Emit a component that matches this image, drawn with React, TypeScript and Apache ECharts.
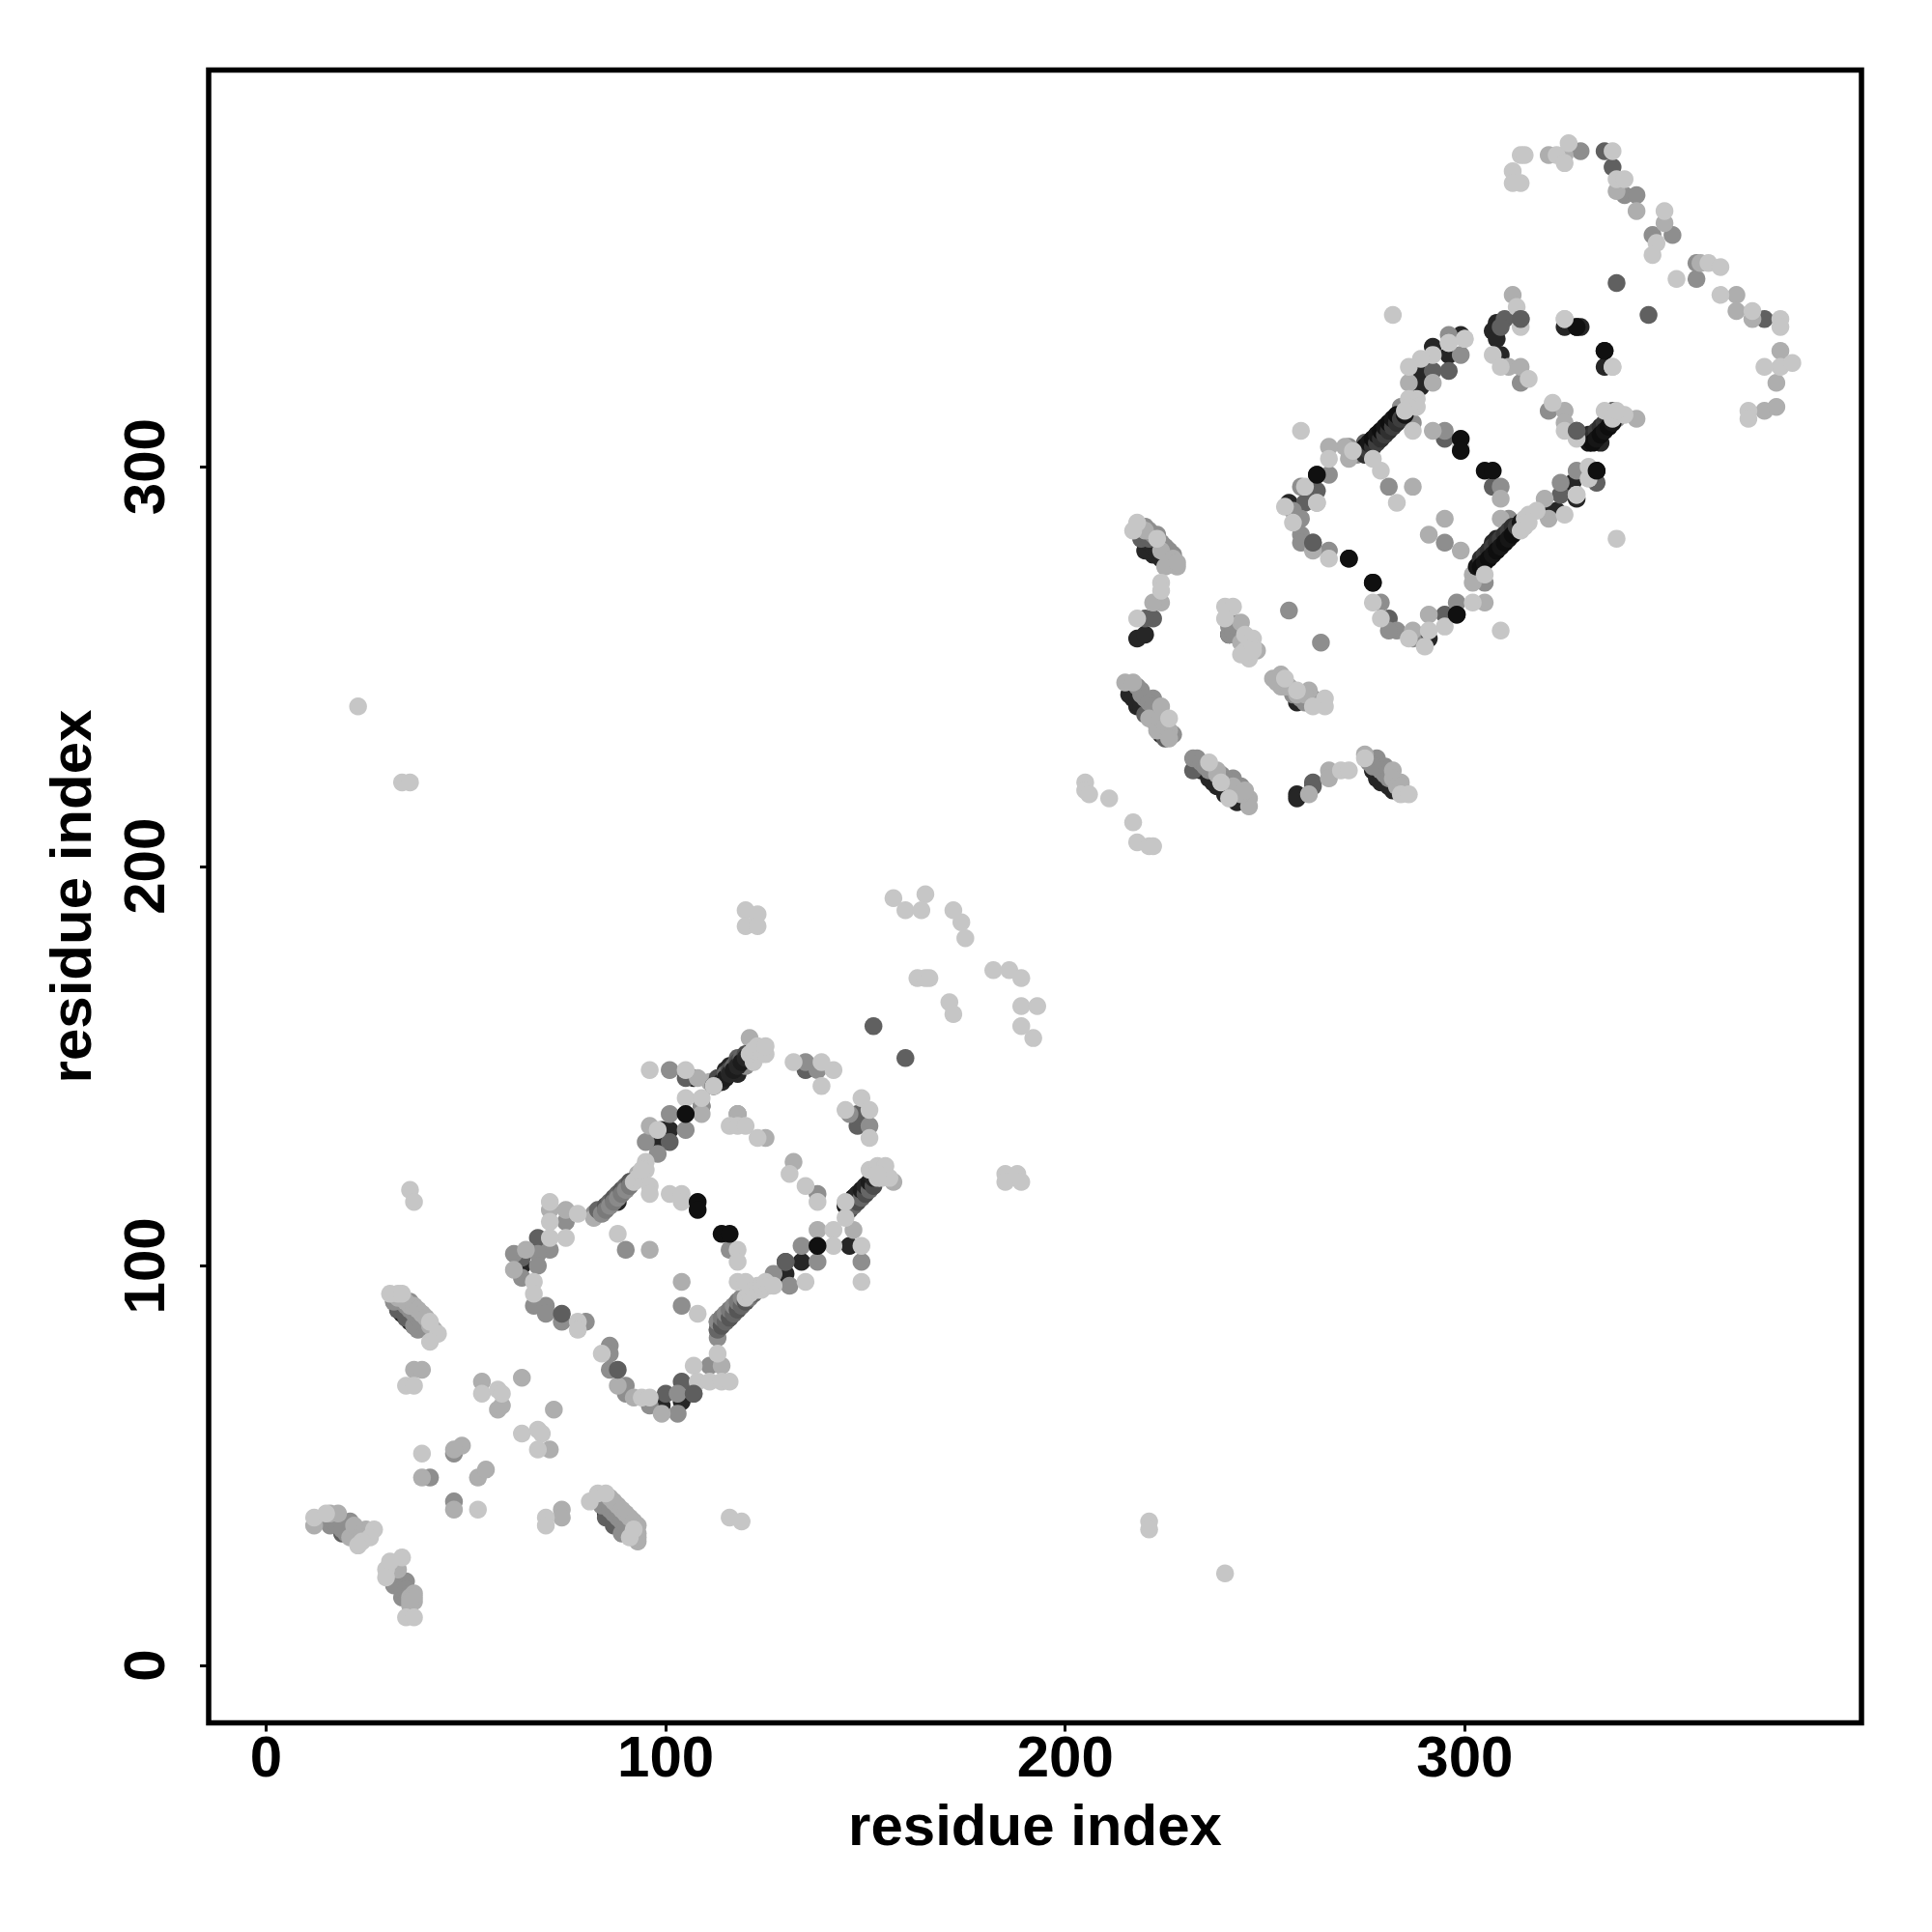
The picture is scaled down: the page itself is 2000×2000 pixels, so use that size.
import React, { useEffect, useRef } from "react";
import * as echarts from "echarts";

const TICKS = [0, 100, 200, 300];
const AXIS_TITLE = "residue index";

const nearBlack: number[][] = [
  [116,150],[118,148],[115,149],[114,146],[116,148],[107,147],[101,134],[98,130],[88,116],[147,117],[148,118],[146,116],[64,100],[99,65],[104,66],[130,98],[134,101],[146,105],[222,278],[224,277],[220,279],[216,243],[218,240],[240,219],[242,217],[258,218],[258,217],[218,257],[220,258],[241,258],[258,241],[277,224],[278,222],[281,220],[308,336],[307,334],[308,332],[309,328],[325,335],[328,335],[329,335],[335,329],[335,325],[328,309],[332,307],[334,306],[331,308],[336,310],[335,310],[299,333],[296,328],[292,330],[289,324],[289,320],[283,312],[282,311],[280,309],[279,307],[277,305],[278,308],[263,298],[256,291],[271,277],[277,271],[310,283],[308,282],[308,280],[306,279],[305,277],[304,276],[307,281],[298,263],[291,257],[333,299],[327,296],[328,292],[320,289],[323,289],[99,134],[97,134],
  [33,89],[34,88],[35,87],[36,86],[37,85],[85,38],[86,37],[87,36],[88,35],[89,34],[90,33],[219,283],[220,282],[221,281],[222,280],[223,279],[224,278],[225,277],[226,276],[217,242],[218,241],[219,240],[220,239],[221,238],[222,237],[223,235],[224,233],[233,225],[234,224],[236,222],[237,221],[238,220],[239,220],[240,218],[241,218],[243,216],[278,224],[279,223],[280,221],[282,219],[279,221],
];
const darkGray: number[][] = [
  [118,152],[105,147],[109,140],[101,131],[88,118],[68,107],[64,102],[117,89],[118,91],[113,84],[113,86],[115,88],[114,86],[116,87],[130,101],[150,120],[152,122],[135,149],[148,138],[148,135],[33,89],[35,87],[85,37],[87,35],[19,33],[33,22],[107,68],[100,68],[104,71],[219,282],[221,282],[222,262],[220,262],[243,258],[232,224],[262,221],[262,220],[220,238],[225,232],[310,337],[314,337],[309,335],[346,338],[338,346],[337,314],[336,310],[275,306],[274,304],[296,324],[292,324],[263,294],[260,291],[262,281],[295,307],[307,295],[312,285],[295,263],[281,262],[333,296],[324,293],[335,379],[337,375],[375,337],[152,160],[160,152],
  [32,91],[33,90],[34,89],[35,88],[36,87],[37,86],[38,85],[32,22],[33,21],[34,20],[35,18],[20,35],[21,34],[22,33],
];
const midGray: number[][] = [
  [120,150],[109,140],[101,138],[105,134],[95,131],[98,128],[101,149],[90,119],[86,115],[84,114],[82,113],[75,111],[71,104],[68,103],[62,103],[68,100],[64,97],[67,90],[70,90],[70,88],[74,86],[80,86],[86,80],[86,78],[86,74],[90,70],[90,68],[96,65],[103,63],[103,68],[111,75],[113,82],[127,98],[131,95],[134,105],[138,101],[149,101],[135,151],[138,149],[146,138],[151,135],[118,138],[138,118],[116,104],[90,104],[104,90],[36,91],[32,91],[37,89],[37,85],[38,84],[84,40],[87,40],[89,38],[91,36],[89,33],[16,35],[19,36],[21,36],[20,33],[35,21],[32,20],[34,17],[41,47],[47,41],[47,53],[225,280],[227,278],[242,261],[241,258],[262,242],[219,244],[222,242],[227,233],[232,227],[233,227],[242,222],[244,220],[278,227],[280,225],[256,264],[264,256],[314,321],[321,314],[338,312],[271,305],[273,303],[266,298],[259,295],[257,289],[259,287],[259,283],[259,281],[266,279],[296,333],[299,328],[287,311],[284,315],[281,295],[295,309],[309,295],[295,281],[311,287],[314,285],[305,271],[298,266],[287,257],[283,259],[281,259],[279,266],[324,296],[329,379],[340,368],[343,368],[347,358],[352,358],[358,351],[358,347],[328,299],
  [34,91],[35,90],[36,89],[37,88],[38,87],[39,86],[40,85],[84,41],[85,40],[86,39],[87,38],[88,37],[89,36],[90,35],[91,34],[92,33],[220,285],[221,284],[222,283],[223,283],[224,281],[226,279],[218,245],[219,243],[220,242],[221,241],[222,240],[223,238],[234,226],[235,225],[236,224],[237,224],[239,223],[240,222],[241,221],[243,219],[276,226],[277,225],[279,224],[280,223],[281,222],[17,36],[18,35],[19,34],[31,23],[32,23],[34,19],[35,19],[36,18],
  [241,260],[242,259],[243,260],[259,242],[260,241],[257,243],
];
const lightGray: number[][] = [
  [121,157],[111,146],[108,147],[109,138],[96,135],[93,123],[91,121],[82,112],[75,114],[71,114],[65,104],[62,99],[92,67],[99,63],[114,75],[119,92],[138,109],[147,109],[157,121],[118,138],[125,132],[132,126],[96,104],[104,96],[12,35],[16,38],[18,38],[23,34],[25,34],[21,32],[33,24],[37,18],[37,16],[36,15],[36,90],[39,88],[93,31],[37,74],[39,74],[54,71],[58,64],[59,65],[64,72],[72,64],[71,54],[49,55],[47,54],[39,47],[53,47],[55,49],[47,39],[74,39],[74,37],[88,70],[218,285],[220,284],[228,275],[225,275],[224,266],[222,266],[244,261],[248,254],[252,247],[254,248],[254,245],[261,244],[215,246],[217,246],[224,240],[221,237],[223,234],[238,224],[246,217],[246,215],[261,218],[266,224],[266,222],[275,228],[282,224],[284,221],[312,343],[311,325],[314,325],[325,314],[325,311],[343,312],[286,321],[292,321],[270,305],[271,302],[266,305],[263,291],[262,279],[287,295],[292,309],[309,292],[295,287],[291,283],[299,279],[309,287],[302,273],[302,271],[305,266],[291,263],[287,259],[321,287],[320,292],[321,378],[325,378],[343,364],[338,369],[350,361],[359,351],[368,343],[368,339],[372,337],[379,329],[378,321],[375,314],[378,315],
  [33,92],[35,91],[37,90],[38,89],[39,88],[40,87],[41,85],[42,84],[86,42],[87,41],[88,40],[89,39],[90,38],[91,37],[92,36],[93,35],[93,33],[93,32],[224,279],[227,277],[228,276],[224,237],[225,235],[226,234],[226,232],[238,223],[242,220],[244,218],[245,219],[282,222],[283,220],[284,220],[22,35],[24,33],[25,32],[24,32],[36,17],[37,17],[36,16],
  [244,256],[245,255],[246,255],[246,256],[253,246],[255,245],[256,245],[258,243],[260,243],
];
const stripeLoop1Upper: number[][] = [
  [112,145],[113,147],[114,146],[115,148],[115,147],[116,149],[116,148],[117,150],[117,149],[118,151],[118,150],[119,152],[119,151],[120,153],[120,152],
];
const stripeLoop1Left: number[][] = [
  [83,114],[84,113],[85,115],[85,114],[86,116],[86,115],[87,117],[87,116],[88,118],[88,117],[89,119],[89,118],[90,120],[90,119],[91,121],[91,120],
];
const stripeLoop1Lower: number[][] = [
  [113,84],[113,86],[114,85],[114,87],[115,86],[115,88],[116,87],[116,89],[117,88],[117,90],[118,89],[118,91],[119,90],[119,92],[120,91],[121,92],[122,93],
];
const stripeLoop1Right: number[][] = [
  [145,115],[146,114],[146,116],[147,115],[147,117],[148,116],[148,118],[149,117],[149,119],[150,118],[150,120],[151,119],[151,121],[152,120],[152,122],
];
const stripeLoop2Upper: number[][] = [
  [274,304],[275,303],[275,305],[276,304],[276,306],[277,305],[277,307],[278,306],[278,308],[279,307],[279,309],[280,308],[280,310],[281,309],[281,311],[282,310],[282,312],[283,311],[283,313],[284,312],[285,313],
];
const stripeLoop2Lower: number[][] = [
  [303,275],[304,277],[304,275],[305,278],[305,276],[306,279],[306,277],[307,280],[307,278],[308,281],[308,279],[309,282],[309,280],[310,283],[310,281],[311,284],[311,282],[312,285],[312,283],[313,285],[314,286],
];
const stripeLoop2Right: number[][] = [
  [331,306],[332,308],[332,306],[333,309],[333,307],[334,310],[334,308],[335,311],[335,309],[336,312],[336,310],[337,313],[337,311],[338,313],
];
const palest: number[][] = [
  [124,154],[123,153],[122,151],[112,145],[105,149],[96,149],[105,142],[109,142],[98,134],[95,126],[95,124],[96,120],[96,118],[78,113],[71,116],[71,111],[75,107],[71,107],[67,96],[67,93],[78,86],[78,84],[84,78],[94,67],[96,67],[107,75],[108,71],[111,71],[114,71],[116,71],[113,78],[122,94],[123,95],[125,95],[118,96],[120,96],[135,96],[142,109],[142,105],[145,112],[149,105],[149,96],[145,116],[153,124],[151,124],[153,125],[132,151],[139,151],[142,149],[139,145],[149,142],[145,139],[151,139],[151,132],[116,135],[118,135],[120,135],[123,132],[131,123],[135,120],[138,116],[101,118],[104,118],[104,116],[118,104],[118,101],[88,108],[108,88],[12,37],[15,38],[27,34],[26,32],[24,31],[23,30],[34,27],[30,24],[31,26],[30,22],[35,12],[37,12],[31,93],[33,93],[34,93],[41,86],[43,83],[41,81],[35,70],[37,70],[54,68],[58,69],[59,68],[64,58],[68,59],[69,58],[68,54],[39,53],[53,39],[70,37],[70,35],[81,41],[83,43],[85,43],[92,34],[91,32],[116,37],[119,36],[36,119],[37,116],[23,240],[34,221],[36,221],[120,189],[123,188],[120,185],[123,185],[157,192],[160,189],[165,193],[164,189],[172,189],[174,186],[175,182],[163,172],[165,172],[166,172],[171,166],[172,163],[182,174],[186,174],[189,172],[189,165],[193,165],[189,160],[192,157],[185,123],[188,123],[185,121],[189,121],[205,221],[205,219],[206,218],[211,217],[217,211],[218,206],[221,205],[222,205],[221,36],[221,34],[240,23],[218,286],[217,284],[223,282],[224,271],[224,269],[218,262],[240,265],[242,265],[240,262],[245,258],[247,257],[245,254],[246,252],[244,253],[255,247],[258,244],[265,242],[265,240],[262,240],[226,237],[236,226],[239,221],[241,217],[269,224],[271,224],[275,227],[284,218],[286,218],[282,338],[313,340],[314,335],[307,328],[309,325],[316,322],[325,337],[337,325],[322,316],[325,309],[328,307],[335,314],[340,313],[300,332],[296,331],[292,328],[289,327],[286,325],[288,317],[286,317],[288,315],[287,309],[272,304],[266,302],[260,295],[263,291],[255,290],[257,286],[266,277],[259,309],[279,299],[277,302],[283,291],[299,305],[307,299],[315,287],[316,288],[305,273],[302,266],[295,260],[291,259],[290,255],[286,257],[279,262],[277,266],[309,259],[338,282],[331,300],[331,297],[328,293],[325,288],[318,289],[312,374],[314,378],[315,378],[312,371],[314,371],[323,378],[326,381],[325,376],[337,379],[338,372],[340,372],[350,364],[348,356],[347,353],[353,347],[361,351],[364,350],[364,343],[372,339],[379,337],[379,335],[379,325],[382,326],[375,325],[371,314],[371,312],
  [92,121],[93,122],[94,123],[94,124],[120,92],[121,93],[122,94],[123,94],[124,94],[124,95],[125,96],[126,95],[127,95],[121,153],[122,154],[123,155],[124,153],[125,153],[125,155],[153,122],[154,122],[154,124],[155,125],[156,122],[153,123],[286,315],[285,314],[314,284],[315,285],[316,286],[337,312],[338,314],[247,255],[247,254],
];
const frontDark: number[][] = [
  [74,88],[88,74],[107,68],[130,101],[262,281],[328,309],[314,337],
];
const frontBlack: number[][] = [
  [105,138],[138,105],[108,116],[108,114],[114,108],[116,108],[299,307],[299,304],[305,299],[307,299],[263,298],[271,277],[277,271],[298,263],[328,335],[335,329],[333,299],
];
const frontPale: number[][] = [
  [300,332],[337,325],[325,337],[296,331],[328,293],
];

const GRAY_STRIPES = ["#666666", "#8a8a8a", "#565656", "#7a7a7a"];
const DARK_STRIPES = ["#1c1c1c", "#4c4c4c", "#262626", "#666666"];
const BLACK_STRIPES = ["#161616", "#303030", "#0e0e0e", "#3e3e3e"];

const LAYERS: [number[][], string | string[]][] = [
  [nearBlack, "#262626"],
  [darkGray, "#606060"],
  [midGray, "#8e8e8e"],
  [lightGray, "#aeaeae"],
  [stripeLoop1Left, GRAY_STRIPES],
  [stripeLoop1Lower, GRAY_STRIPES],
  [stripeLoop1Upper, DARK_STRIPES],
  [stripeLoop1Right, DARK_STRIPES],
  [stripeLoop2Upper, BLACK_STRIPES],
  [stripeLoop2Lower, BLACK_STRIPES],
  [stripeLoop2Right, BLACK_STRIPES],
  [palest, "#c6c6c6"],
  [frontDark, "#5e5e5e"],
  [frontBlack, "#101010"],
  [frontPale, "#c8c8c8"],
];

const FONT = "'Liberation Sans', Arial, sans-serif";

export default function App() {
  const ref = useRef<HTMLDivElement>(null);
  useEffect(() => {
    const chart = echarts.init(ref.current!, null, { renderer: "svg" });
    const axisCommon = {
      type: "value" as const,
      min: -14.4,
      max: 399.3,
      name: AXIS_TITLE,
      nameLocation: "middle" as const,
      nameTextStyle: { fontFamily: FONT, fontWeight: "bold" as const, fontSize: 60, color: "#000" },
      axisLine: { show: false, onZero: false },
      splitLine: { show: false },
      axisTick: { show: true, length: 9, customValues: TICKS, lineStyle: { color: "#000", width: 3 } },
    };
    chart.setOption({
      animation: false,
      backgroundColor: "#fff",
      grid: {
        show: true, left: 216, top: 72.5, width: 1711, height: 1711,
        borderColor: "#000", borderWidth: 5.5, backgroundColor: "#fff",
      },
      xAxis: {
        ...axisCommon,
        nameGap: 76,
        axisLabel: { customValues: TICKS, margin: 5, fontFamily: FONT, fontWeight: "bold", fontSize: 60, color: "#000" },
      },
      yAxis: {
        ...axisCommon,
        nameGap: 113,
        axisLabel: { customValues: TICKS, rotate: 90, margin: 37, fontFamily: FONT, fontWeight: "bold", fontSize: 60, color: "#000" },
      },
      series: LAYERS.map(([data, color], i) => ({
        type: "scatter",
        data,
        z: 2 + i,
        symbol: "circle",
        symbolSize: 18.5,
        itemStyle: {
          color: Array.isArray(color)
            ? (p: { dataIndex: number }) => color[p.dataIndex % color.length]
            : color,
          opacity: 1,
        },
        silent: true,
      })),
    });
    return () => chart.dispose();
  }, []);
  return <div ref={ref} style={{ position: "absolute", left: 0, top: 0, width: 2000, height: 2000 }} />;
}
